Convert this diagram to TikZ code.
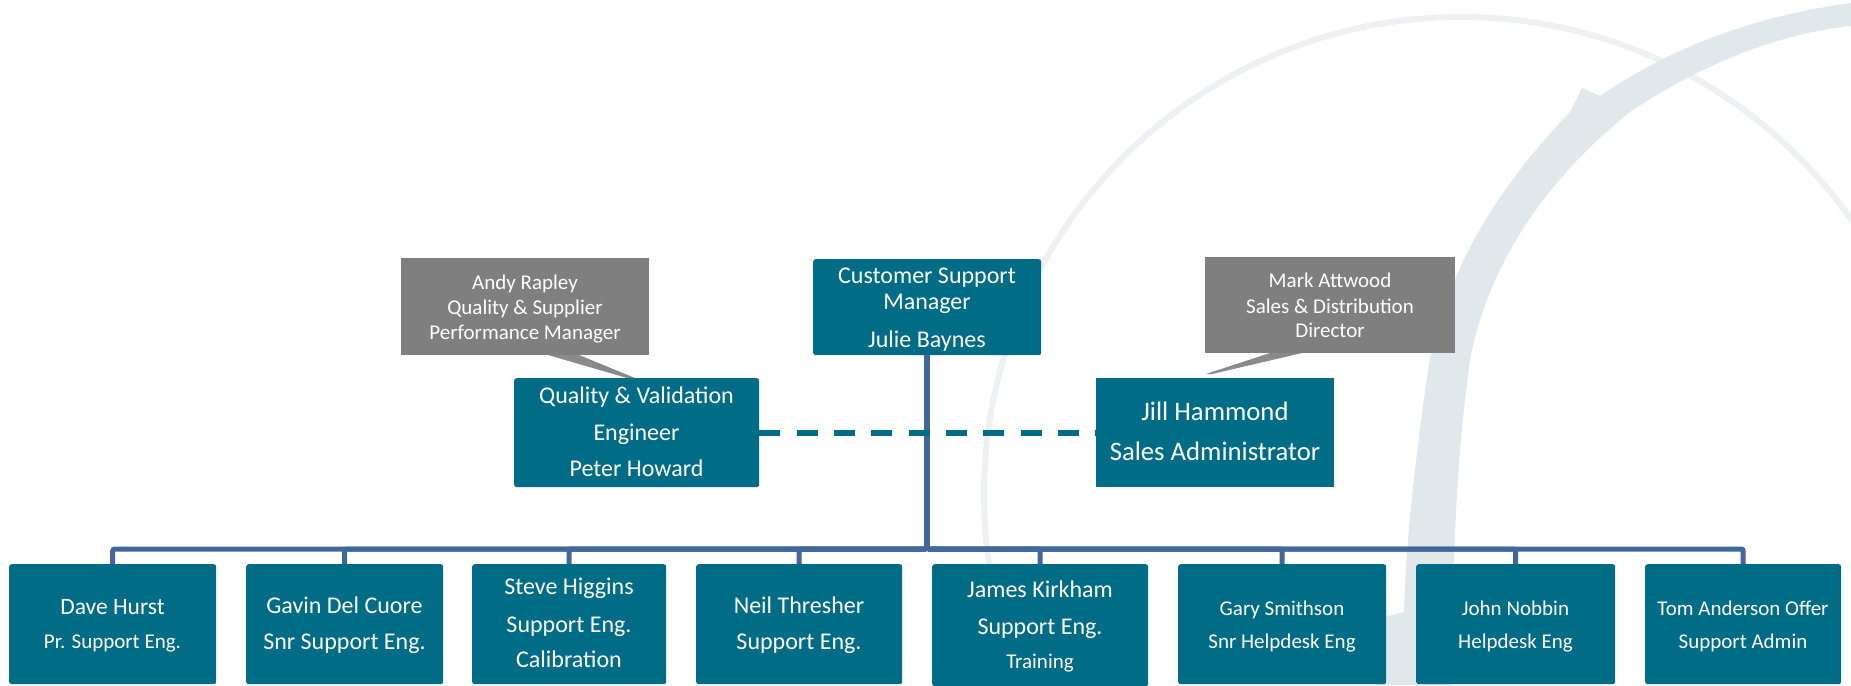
\documentclass[tikz,border=0pt]{standalone}
\usepackage{fontspec}
\setmainfont{Carlito}
\definecolor{tealbox}{HTML}{006C86}
\definecolor{calloutgray}{HTML}{7F7F7F}
\definecolor{wedgegray}{HTML}{8A8A8A}
\definecolor{connblue}{HTML}{41689A}
\definecolor{ringlight}{HTML}{EDF1F4}
\definecolor{bandlight}{HTML}{E1E8EC}
\newcommand{\fsz}[1]{\fontsize{#1}{#1}\selectfont}
\begin{document}
\begin{tikzpicture}[x=1pt,y=-1pt,
  box/.style={fill=tealbox, draw=none, rounded corners=2.5pt, inner sep=0pt, anchor=north west},
  graybox/.style={fill=calloutgray, draw=none, inner sep=0pt, anchor=north west},
  txt/.style={text=white, inner sep=0pt, anchor=base},
  conn/.style={draw=connblue, line width=5pt, rounded corners=2pt},
  dashlink/.style={draw=tealbox, line width=6pt, dash pattern=on 21pt off 16.3pt}
]
\useasboundingbox (0,0) rectangle (1851,685);
\fill[white] (0,0) rectangle (1851,685);
% background swoosh
\draw[ringlight, line width=6pt] (1461,494) circle[radius=477pt];
\fill[bandlight] (1851,3) .. controls (1740,18) and (1660,55) .. (1600,96)
  -- (1582,88) -- (1570,112)
  .. controls (1500,185) and (1445,270) .. (1428,370)
  .. controls (1414,470) and (1406,540) .. (1404,612)
  -- (1380,618) -- (1376,685)
  -- (1452,685)
  .. controls (1452,570) and (1456,460) .. (1470,360)
  .. controls (1488,265) and (1545,180) .. (1630,112)
  .. controls (1710,58) and (1790,32) .. (1851,26) -- cycle;

% top row boxes
\node[graybox, minimum width=248pt, minimum height=97pt] (andy) at (401,258) {};
\node[box, minimum width=228pt, minimum height=96pt] (csm) at (813,259) {};
\node[graybox, minimum width=250pt, minimum height=96pt] (mark) at (1205,257) {};
\node[box, minimum width=245pt, minimum height=109pt] (qv) at (514,378) {};
\node[box, rounded corners=0pt, minimum width=238pt, minimum height=109pt] (jill) at (1096,378) {};

% callout wedges
\fill[wedgegray] (548,355) -- (579,355) -- (635,378) -- (627,378) -- cycle;
\fill[wedgegray] (1270,353) -- (1302,353) -- (1212,374) -- (1206,374) -- cycle;

% bottom row boxes
\node[box, minimum width=207pt, minimum height=120pt] (dave) at (9,564) {};
\node[box, minimum width=197pt, minimum height=120pt] (gavin) at (246,564) {};
\node[box, minimum width=194pt, minimum height=120pt] (steve) at (472,564) {};
\node[box, minimum width=206pt, minimum height=120pt] (neil) at (696,564) {};
\node[box, minimum width=216pt, minimum height=122pt] (james) at (932,564) {};
\node[box, minimum width=208pt, minimum height=120pt] (gary) at (1178,564) {};
\node[box, minimum width=199pt, minimum height=120pt] (john) at (1416,564) {};
\node[box, minimum width=196pt, minimum height=120pt] (tom) at (1645,564) {};

% connectors
\coordinate (bus) at (927,549);
\foreach \c in {dave,gavin,steve,neil,james,gary,john,tom}{
  \draw[conn] (csm.south) -- (bus) -| (\c.north);
}
\draw[dashlink] (qv.east) -- (jill.west);

% texts
\node[txt, font=\fsz{21}] (andy1) at (525,289) {Andy Rapley};
\node[txt, font=\fsz{21}] (andy2) at (525,314) {Quality \& Supplier};
\node[txt, font=\fsz{21}] (andy3) at (525,339) {Performance Manager};

\node[txt, font=\fsz{24}] (csm1) at (927,283) {Customer Support};
\node[txt, font=\fsz{24}] (csm2) at (927,309) {Manager};
\node[txt, font=\fsz{24}] (csm3) at (927,347) {Julie Baynes};

\node[txt, font=\fsz{21}] (mark1) at (1330,287) {Mark Attwood};
\node[txt, font=\fsz{21}] (mark2) at (1330,313) {Sales \& Distribution};
\node[txt, font=\fsz{21}] (mark3) at (1330,337) {Director};

\node[txt, font=\fsz{24}] (qv1) at (636.5,403) {Quality \& Validation};
\node[txt, font=\fsz{24}] (qv2) at (636.5,440) {Engineer};
\node[txt, font=\fsz{24}] (qv3) at (636.5,476) {Peter Howard};

\node[txt, font=\fsz{26.7}] (jill1) at (1215,420) {Jill Hammond};
\node[txt, font=\fsz{26.7}] (jill2) at (1215,460) {Sales Administrator};

\node[txt, font=\fsz{23.5}] (dave1) at (112.5,614) {Dave Hurst};
\node[txt, font=\fsz{21}] (dave2) at (112.5,648) {Pr. Support Eng.};

\node[txt, font=\fsz{24}] (gavin1) at (344.5,613) {Gavin Del Cuore};
\node[txt, font=\fsz{24}] (gavin2) at (344.5,649) {Snr Support Eng.};

\node[txt, font=\fsz{24}] (steve1) at (569,594) {Steve Higgins};
\node[txt, font=\fsz{24}] (steve2) at (569,632) {Support Eng.};
\node[txt, font=\fsz{24}] (steve3) at (569,667) {Calibration};

\node[txt, font=\fsz{24}] (neil1) at (799,613) {Neil Thresher};
\node[txt, font=\fsz{24}] (neil2) at (799,649) {Support Eng.};

\node[txt, font=\fsz{24}] (james1) at (1040,597) {James Kirkham};
\node[txt, font=\fsz{24}] (james2) at (1040,634) {Support Eng.};
\node[txt, font=\fsz{21}] (james3) at (1040,668) {Training};

\node[txt, font=\fsz{21}] (gary1) at (1282,615) {Gary Smithson};
\node[txt, font=\fsz{21}] (gary2) at (1282,648) {Snr Helpdesk Eng};

\node[txt, font=\fsz{21}] (john1) at (1515.5,615) {John Nobbin};
\node[txt, font=\fsz{21}] (john2) at (1515.5,648) {Helpdesk Eng};

\node[txt, font=\fsz{21}] (tom1) at (1743,615) {Tom Anderson Offer};
\node[txt, font=\fsz{21}] (tom2) at (1743,648) {Support Admin};
\end{tikzpicture}
\end{document}
